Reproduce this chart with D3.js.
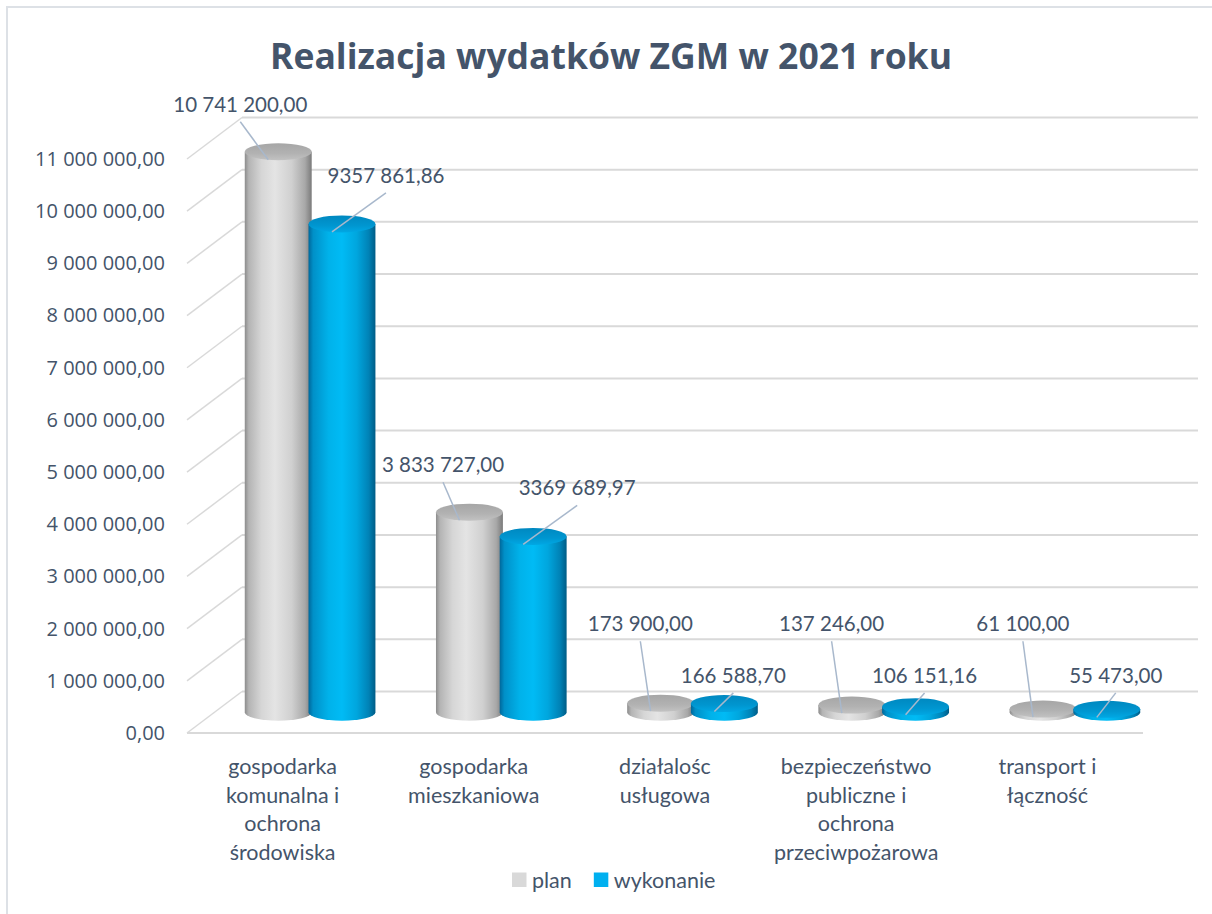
<!DOCTYPE html>
<html><head><meta charset="utf-8">
<script src="https://cdn.jsdelivr.net/npm/d3@7/dist/d3.min.js"></script>
<style>
html,body{margin:0;padding:0;background:#fff;}
svg{display:block;}
</style></head>
<body>
<svg id="chart" width="1212" height="914"></svg>
<script>
// ---- data ----
const title = "Realizacja wydatków ZGM w 2021 roku";
const categories = [
  ["gospodarka", "komunalna i", "ochrona", "środowiska"],
  ["gospodarka", "mieszkaniowa"],
  ["działalośc", "usługowa"],
  ["bezpieczeństwo", "publiczne i", "ochrona", "przeciwpożarowa"],
  ["transport i", "łączność"]
];
const seriesNames = ["plan", "wykonanie"];
const planValues = [10741200.00, 3833727.00, 173900.00, 137246.00, 61100.00];
const wykonanieValues = [9357861.86, 3369689.97, 166588.70, 106151.16, 55473.00];
const planLabels = ["10 741 200,00", "3 833 727,00", "173 900,00", "137 246,00", "61 100,00"];
const wykonanieLabels = ["9357 861,86", "3369 689,97", "166 588,70", "106 151,16", "55 473,00"];
const yTicks = [0, 1000000, 2000000, 3000000, 4000000, 5000000, 6000000, 7000000, 8000000, 9000000, 10000000, 11000000];
const yTickLabels = ["0,00", "1 000 000,00", "2 000 000,00", "3 000 000,00", "4 000 000,00", "5 000 000,00",
  "6 000 000,00", "7 000 000,00", "8 000 000,00", "9 000 000,00", "10 000 000,00", "11 000 000,00"];

// ---- layout ----
const svg = d3.select("#chart");
const TEXT = "#44546A";
const GRID = "#d9d9d9";
const depth = {dx: 55, dy: -41.5};   // oblique offset from front plane to back wall

const x0 = d3.scaleBand().domain(d3.range(categories.length)).range([187, 1143]);
const x1 = d3.scaleBand().domain(seriesNames).range([0, x0.bandwidth()]).paddingOuter(0.5).paddingInner(0);
const y = d3.scaleLinear().domain([0, 11000000]).range([733, 159]);

// outer frame (left and top edges)
svg.append("path").attr("d", "M7,914 L7,7 L1212,7").attr("fill", "none")
  .attr("stroke", "#dde1e6").attr("stroke-width", 2);

// title
svg.append("text").attr("x", 611).attr("y", 69).attr("text-anchor", "middle")
  .attr("font-family", "'Open Sans', sans-serif").attr("font-weight", 700)
  .attr("font-size", 35.5).attr("fill", TEXT).text(title);

// back wall gridlines + left wall diagonals
const grid = svg.append("g");
yTicks.forEach(t => {
  const yf = y(t), yb = y(t) + depth.dy;
  grid.append("line").attr("x1", x0.range()[0] + depth.dx).attr("x2", x0.range()[1] + depth.dx)
    .attr("y1", yb).attr("y2", yb).attr("stroke", GRID).attr("stroke-width", 2);
  grid.append("line").attr("x1", x0.range()[0]).attr("y1", yf)
    .attr("x2", x0.range()[0] + depth.dx).attr("y2", yb).attr("stroke", GRID).attr("stroke-width", 1.5);
});
// floor front edge
grid.append("line").attr("x1", x0.range()[0]).attr("x2", x0.range()[1])
  .attr("y1", y(0)).attr("y2", y(0)).attr("stroke", GRID).attr("stroke-width", 2);

// y axis labels
const yAxis = d3.axisLeft(y).tickValues(yTicks).tickSize(0).tickPadding(0)
  .tickFormat((d, i) => yTickLabels[i]);
const ya = svg.append("g").attr("transform", "translate(165,0)").call(yAxis);
ya.select(".domain").remove();
ya.selectAll("text").attr("font-family", "'Open Sans', sans-serif").attr("font-size", 20)
  .attr("fill", TEXT);

// gradients
const defs = svg.append("defs");
function grad(id, stops, vertical) {
  const g = defs.append("linearGradient").attr("id", id)
    .attr("x1", 0).attr("y1", 0).attr("x2", vertical ? 0 : 1).attr("y2", vertical ? 1 : 0);
  stops.forEach(s => g.append("stop").attr("offset", s[0]).attr("stop-color", s[1]));
}
grad("gBody", [[0, "#8c8c8c"], [0.06, "#b4b4b4"], [0.25, "#d6d6d6"], [0.45, "#e4e4e4"], [0.7, "#d0d0d0"], [0.9, "#a8a8a8"], [1, "#7a7a7a"]]);
grad("gTop", [[0, "#a6a6a6"], [0.6, "#b2b2b2"], [1, "#c2c2c2"]], true);
grad("bBody", [[0, "#00679a"], [0.07, "#0090c8"], [0.3, "#00b2ea"], [0.5, "#00bbf5"], [0.72, "#00a6de"], [0.9, "#0082b6"], [1, "#005c86"]]);
grad("bTop", [[0, "#0088c0"], [0.6, "#0096d0"], [1, "#00a8e4"]], true);
const fills = {plan: ["url(#gBody)", "url(#gTop)"], wykonanie: ["url(#bBody)", "url(#bTop)"]};

// cylinders
const data = [];
categories.forEach((c, i) => {
  data.push({i, s: "plan", v: planValues[i], label: planLabels[i]});
  data.push({i, s: "wykonanie", v: wykonanieValues[i], label: wykonanieLabels[i]});
});
const ry = 8.5;
data.forEach(d => {
  d.cx = x0(d.i) + depth.dx / 2 + x1(d.s) + x1.bandwidth() / 2;
  d.rx = x1.bandwidth() * 0.525;
  d.yTop = y(d.v) + depth.dy / 2;
  d.yBot = y(0) + depth.dy / 2;
  d.ax = d.cx - 10;
  d.ay = d.yTop + 8;
});
const bars = svg.append("g");
data.forEach(d => {
  const g = bars.append("g");
  g.append("path").attr("d",
    `M${d.cx - d.rx},${d.yTop} L${d.cx - d.rx},${d.yBot} A${d.rx},${ry} 0 0 0 ${d.cx + d.rx},${d.yBot} L${d.cx + d.rx},${d.yTop} Z`)
    .attr("fill", fills[d.s][0]);
  g.append("ellipse").attr("cx", d.cx).attr("cy", d.yTop).attr("rx", d.rx).attr("ry", ry)
    .attr("fill", fills[d.s][1]);
});

// data labels with leader lines
const big = 1000000;
const labels = svg.append("g");
data.forEach(d => {
  let lx, ly;
  if (d.s === "plan") {
    lx = d.ax - 10 - 1.67 * d.v / big;
    ly = d.v > big ? d.ay - 48 : y(1950000);
  } else {
    lx = d.ax + (d.v > big ? 54 : 19);
    ly = d.v > big ? d.ay - 49 : y(960000);
  }
  labels.append("line").attr("x1", lx).attr("y1", ly + 10).attr("x2", d.ax).attr("y2", d.ay)
    .attr("stroke", "#a8b8cc").attr("stroke-width", 1.5);
  labels.append("text").attr("x", lx).attr("y", ly).attr("text-anchor", "middle")
    .attr("font-family", "Lato, sans-serif").attr("font-size", 20.5).attr("fill", TEXT).text(d.label);
});

// category labels
const cat = svg.append("g");
categories.forEach((lines, i) => {
  const t = cat.append("text").attr("text-anchor", "middle")
    .attr("font-family", "Lato, sans-serif").attr("font-size", 21.5).attr("fill", TEXT);
  lines.forEach((l, k) => {
    t.append("tspan").attr("x", x0(i) + x0.bandwidth() / 2).attr("y", 774 + k * 28.7).text(l);
  });
});

// legend
const legendColors = {plan: "#d9d9d9", wykonanie: "#00b0f0"};
const lg = svg.append("g").attr("transform", "translate(512,880)");
let lxpos = 0;
seriesNames.forEach(s => {
  lg.append("rect").attr("x", lxpos).attr("y", -7.5).attr("width", 14.5).attr("height", 14.5).attr("fill", legendColors[s]);
  const t = lg.append("text").attr("x", lxpos + 20).attr("y", 7.5).attr("font-family", "Lato, sans-serif")
    .attr("font-size", 21.5).attr("fill", TEXT).text(s);
  lxpos += 20 + t.node().getComputedTextLength() + 22;
});
</script>
</body></html>
